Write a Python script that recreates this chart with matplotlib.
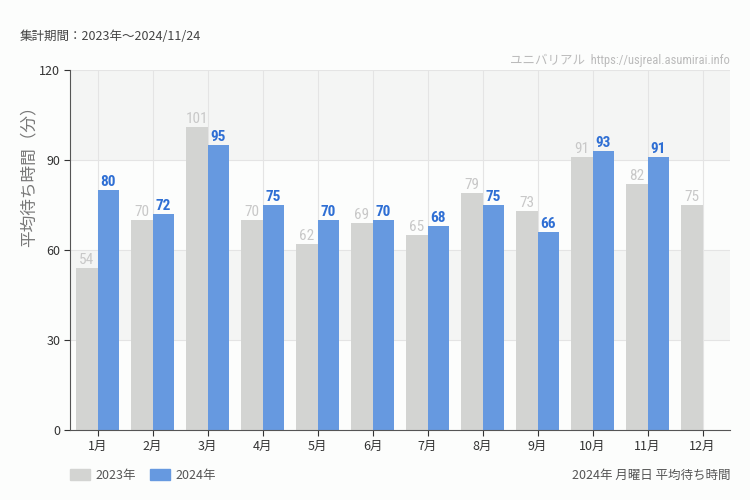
import matplotlib
matplotlib.use("Agg")
import matplotlib.pyplot as plt
from matplotlib.patches import Rectangle
from matplotlib import font_manager
import numpy as np

plt.rcParams['font.family'] = ['Noto Sans CJK JP', 'DejaVu Sans']

months = ["1月", "2月", "3月", "4月", "5月", "6月", "7月", "8月", "9月", "10月", "11月", "12月"]
v2023 = [54, 70, 101, 70, 62, 69, 65, 79, 73, 91, 82, 75]
v2024 = [80, 72, 95, 75, 70, 70, 68, 75, 66, 93, 91, None]
yticks = [0, 30, 60, 90, 120]

c23 = "#d3d4d2"
c24 = "#6699e0"
bg = "#fcfdfc"

narrow = None
for cand in ["Liberation Sans Narrow", "DejaVu Sans Condensed", "Roboto Condensed", "Open Sans Condensed"]:
    try:
        font_manager.findfont(font_manager.FontProperties(family=cand), fallback_to_default=False)
        narrow = cand
        break
    except Exception:
        pass
if narrow is None:
    narrow = "Roboto"

fig = plt.figure(figsize=(7.5, 5), dpi=100, facecolor=bg)
ax = fig.add_axes([70/750, 70/500, 660/750, 360/500])
ax.set_facecolor(bg)

n = len(months)
x = np.arange(n)
ax.set_xlim(-0.5, n - 0.5)
ax.set_ylim(0, 120)

for i, (lo, hi) in enumerate(zip(yticks[:-1], yticks[1:])):
    if i % 2 == 1:
        ax.axhspan(lo, hi, color="#f4f5f4", zorder=0, lw=0)
for yv in yticks[1:]:
    ax.axhline(yv, color="#e4e4e4", lw=0.8, zorder=0.5)
for xi in x:
    ax.axvline(xi, color="#e4e4e4", lw=0.8, zorder=0.5)

w = 0.395
for i in range(n):
    a = v2023[i]
    ax.bar(x[i] - w/2, a, width=w, color=c23, zorder=2)
    ax.text(x[i] - w/2, a + 0.3, str(a), ha="center", va="bottom", color="#c8c8c8",
            fontsize=11, family=narrow, zorder=3)
    b = v2024[i]
    if b is not None:
        ax.bar(x[i] + w/2, b, width=w, color=c24, zorder=2)
        ax.text(x[i] + w/2, b + 0.3, str(b), ha="center", va="bottom", color="#2f6fd4",
                fontsize=11, fontweight="bold", family=narrow, zorder=3)

ax.set_xticks(x)
ax.set_xticklabels(months, fontsize=9, color="#333333")
ax.set_yticks(yticks)
ax.set_yticklabels([str(t) for t in yticks], fontsize=9, color="#333333")
ax.tick_params(axis="x", length=4, width=0.8, color="#333333", pad=3)
ax.tick_params(axis="y", length=4, width=0.8, color="#333333", pad=3)
for s in ["top", "right"]:
    ax.spines[s].set_visible(False)
ax.spines["left"].set_color("#555555")
ax.spines["bottom"].set_color("#555555")
ax.spines["left"].set_linewidth(0.8)
ax.spines["bottom"].set_linewidth(0.8)

ax.set_ylabel("平均待ち時間（分）", fontsize=12, color="#777777")
ax.yaxis.set_label_coords(-32/660, (430 - 172) / 360)

fig.text(20/750, 1 - 37/500, "集計期間：2023年～2024/11/24", fontsize=9, color="#444444", va="center", ha="left")
fig.text(730/750, 1 - 60/500, "ユニバリアル  https://usjreal.asumirai.info", fontsize=9, color="#bbbbbb",
         va="center", ha="right", family=[narrow, 'Noto Sans CJK JP'])

fig.patches.append(Rectangle((70/750, 1 - 480/500), 20/750, 11/500, transform=fig.transFigure,
                             color=c23, figure=fig))
fig.text(95/750, 1 - 475/500, "2023年", fontsize=9, color="#555555", va="center")
fig.patches.append(Rectangle((150/750, 1 - 480/500), 20/750, 11/500, transform=fig.transFigure,
                             color=c24, figure=fig))
fig.text(175/750, 1 - 475/500, "2024年", fontsize=9, color="#555555", va="center")
fig.text(730/750, 1 - 475/500, "2024年 月曜日 平均待ち時間", fontsize=9, color="#555555",
         va="center", ha="right")

fig.savefig("out.png", dpi=100, facecolor=bg)
